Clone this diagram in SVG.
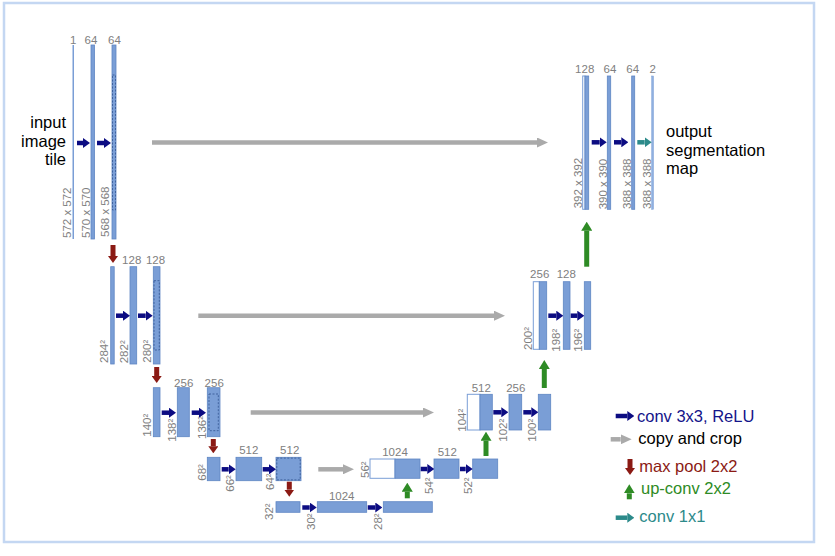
<svg xmlns="http://www.w3.org/2000/svg" width="835" height="556" viewBox="0 0 835 556">
<style>
.bar{fill:#7a9ed6;stroke:#5f86c4;stroke-width:0.8}
.wbar{fill:#fff;stroke:#7a9ed6;stroke-width:1}
.crop{fill:none;stroke:#3a5c98;stroke-width:0.9;stroke-dasharray:2 1.5}
.num{font-family:"Liberation Sans",Arial,sans-serif;font-size:11.5px;fill:#808080}
.c{text-anchor:middle}
.big{font-family:"Liberation Sans",Arial,sans-serif;font-size:16.5px;fill:#000}
.conv{stroke:#0c0c82;stroke-width:4.5;marker-end:url(#hNavy)}
.c11{stroke:#2c8a8a;stroke-width:4.5;marker-end:url(#hTeal)}
.copy{stroke:#aaaaaa;stroke-width:4.5;marker-end:url(#hGray)}
.pool{stroke:#8b1a14;stroke-width:5;marker-end:url(#hRed)}
.up{stroke:#2e8b25;stroke-width:5;marker-end:url(#hGreen)}
</style>
<defs>
<marker id="hNavy" markerUnits="userSpaceOnUse" markerWidth="7" markerHeight="10" viewBox="0 0 7 10" refX="0" refY="5" orient="auto"><path d="M0,0 L7,5 L0,10 Z" fill="#0c0c82"/></marker>
<marker id="hTeal" markerUnits="userSpaceOnUse" markerWidth="7" markerHeight="10" viewBox="0 0 7 10" refX="0" refY="5" orient="auto"><path d="M0,0 L7,5 L0,10 Z" fill="#2c8a8a"/></marker>
<marker id="hGray" markerUnits="userSpaceOnUse" markerWidth="11" markerHeight="10" viewBox="0 0 11 10" refX="0" refY="5" orient="auto"><path d="M0,0 L11,5 L0,10 Z" fill="#aaaaaa"/></marker>
<marker id="hRed" markerUnits="userSpaceOnUse" markerWidth="7" markerHeight="10" viewBox="0 0 7 10" refX="0" refY="5" orient="auto"><path d="M0,0 L7,5 L0,10 Z" fill="#8b1a14"/></marker>
<marker id="hGreen" markerUnits="userSpaceOnUse" markerWidth="9" markerHeight="11" viewBox="0 0 9 11" refX="0" refY="5.5" orient="auto"><path d="M0,0 L9,5.5 L0,11 Z" fill="#2e8b25"/></marker>
</defs>
<rect x="0" y="0" width="835" height="556" fill="#fff"/>
<rect x="4" y="3" width="810" height="539" fill="#fff" stroke="#c4d7f2" stroke-width="2.5"/>

<!-- Encoder level 1 -->
<g id="e1a"><rect x="72.5" y="45" width="1.5" height="194" fill="#7a9ed6"/><text class="num c" x="73.3" y="44">1</text><text class="num" transform="translate(70.7,238) rotate(-90)">572 x 572</text></g>
<g id="e1b"><rect class="bar" x="91" y="45" width="3.5" height="194"/><text class="num c" x="91" y="44">64</text><text class="num" transform="translate(90,238) rotate(-90)">570 x 570</text></g>
<g id="e1c"><rect class="bar" x="112" y="45" width="4" height="194"/><rect class="crop" x="112.5" y="75" width="3" height="135"/><text class="num c" x="114.5" y="44">64</text><text class="num" transform="translate(109,237) rotate(-90)">568 x 568</text></g>
<g id="input-label"><text class="big" text-anchor="end" x="66" y="128">input</text><text class="big" text-anchor="end" x="66" y="146.5">image</text><text class="big" text-anchor="end" x="66" y="165">tile</text></g>

<!-- Encoder level 2 -->
<g id="e2a"><rect class="bar" x="110.7" y="266.7" width="3.5" height="97.3"/><text class="num" transform="translate(108.3,363) rotate(-90)">284²</text></g>
<g id="e2b"><rect class="bar" x="130" y="266.7" width="6.7" height="97.3"/><text class="num c" x="131.7" y="264">128</text><text class="num" transform="translate(128.3,363.3) rotate(-90)">282²</text></g>
<g id="e2c"><rect class="bar" x="153.3" y="266.7" width="6.7" height="97.3"/><rect class="crop" x="154" y="280.7" width="5.3" height="69.3"/><text class="num c" x="155.5" y="264">128</text><text class="num" transform="translate(151,362.7) rotate(-90)">280²</text></g>

<!-- Encoder level 3 -->
<g id="e3a"><rect class="bar" x="153.3" y="387.7" width="6.7" height="49"/><text class="num" transform="translate(151,436.7) rotate(-90)">140²</text></g>
<g id="e3b"><rect class="bar" x="177.3" y="387.7" width="12" height="49"/><text class="num c" x="183.7" y="386.5">256</text><text class="num" transform="translate(175.7,441.7) rotate(-90)">138²</text></g>
<g id="e3c"><rect class="bar" x="207.3" y="387.7" width="12.7" height="49"/><rect class="crop" x="209" y="394" width="9.3" height="36.7"/><text class="num c" x="214.2" y="386.5">256</text><text class="num" transform="translate(206,439) rotate(-90)">136²</text></g>

<!-- Encoder level 4 -->
<g id="e4a"><rect class="bar" x="207.3" y="457.3" width="12.7" height="23.4"/><text class="num" transform="translate(205.7,480.7) rotate(-90)">68²</text></g>
<g id="e4b"><rect class="bar" x="236" y="457.3" width="25.7" height="23.4"/><text class="num c" x="248.8" y="454">512</text><text class="num" transform="translate(234.3,491.7) rotate(-90)">66²</text></g>
<g id="e4c"><rect class="bar" x="276" y="457.3" width="25" height="23.4"/><rect class="crop" x="276.8" y="458.1" width="23.4" height="21.8"/><text class="num c" x="289.7" y="454">512</text><text class="num" transform="translate(274.3,490) rotate(-90)">64²</text></g>

<!-- Bottleneck level 5 -->
<g id="b5a"><rect class="bar" x="276" y="501.7" width="24" height="10.6"/><text class="num" transform="translate(273.3,520) rotate(-90)">32²</text></g>
<g id="b5b"><rect class="bar" x="317.3" y="501.7" width="49.4" height="10.6"/><text class="num c" x="341.7" y="499.5">1024</text><text class="num" transform="translate(315,530) rotate(-90)">30²</text></g>
<g id="b5c"><rect class="bar" x="383.3" y="501.7" width="49" height="10.6"/><text class="num" transform="translate(381.7,530) rotate(-90)">28²</text></g>

<!-- Decoder level 4 -->
<g id="d4a"><rect class="wbar" x="370" y="459" width="25" height="19.3"/><rect class="bar" x="395" y="459" width="25" height="19.3"/><text class="num c" x="395" y="456">1024</text><text class="num" transform="translate(369,478) rotate(-90)">56²</text></g>
<g id="d4b"><rect class="bar" x="434" y="459" width="25" height="19.3"/><text class="num c" x="447.3" y="456">512</text><text class="num" transform="translate(433.3,494) rotate(-90)">54²</text></g>
<g id="d4c"><rect class="bar" x="472.7" y="459" width="25" height="19.3"/><text class="num" transform="translate(471.7,494) rotate(-90)">52²</text></g>

<!-- Decoder level 3 -->
<g id="d3a"><rect class="wbar" x="467.3" y="394.3" width="12.7" height="35.7"/><rect class="bar" x="480" y="394.3" width="12.3" height="35.7"/><text class="num c" x="481.3" y="391.7">512</text><text class="num" transform="translate(466,431.7) rotate(-90)">104²</text></g>
<g id="d3b"><rect class="bar" x="509" y="394.3" width="12.7" height="35.7"/><text class="num c" x="515.8" y="391.7">256</text><text class="num" transform="translate(506.7,441.7) rotate(-90)">102²</text></g>
<g id="d3c"><rect class="bar" x="538.3" y="394.3" width="12.4" height="35.7"/><text class="num" transform="translate(536,441.7) rotate(-90)">100²</text></g>

<!-- Decoder level 2 -->
<g id="d2a"><rect class="wbar" x="533.3" y="281.7" width="6" height="67.6"/><rect class="bar" x="539.3" y="281.7" width="7.4" height="67.6"/><text class="num c" x="539.7" y="278.3">256</text><text class="num" transform="translate(531.7,350) rotate(-90)">200²</text></g>
<g id="d2b"><rect class="bar" x="563.3" y="281.7" width="6.7" height="67.6"/><text class="num c" x="566.3" y="278.3">128</text><text class="num" transform="translate(560,351.7) rotate(-90)">198²</text></g>
<g id="d2c"><rect class="bar" x="584.3" y="281.7" width="6.4" height="67.6"/><text class="num" transform="translate(582.3,351.7) rotate(-90)">196²</text></g>

<!-- Decoder level 1 -->
<g id="d1a"><rect class="wbar" x="582.7" y="76" width="2.3" height="133.3"/><rect class="bar" x="585" y="76" width="3.7" height="133.3"/><text class="num c" x="584.7" y="73.3">128</text><text class="num" transform="translate(581.7,208.3) rotate(-90)">392 x 392</text></g>
<g id="d1b"><rect class="bar" x="607.3" y="76" width="3.4" height="133.3"/><text class="num c" x="610" y="73.3">64</text><text class="num" transform="translate(606.7,209.3) rotate(-90)">390 x 390</text></g>
<g id="d1c"><rect class="bar" x="631.7" y="76" width="3" height="133.3"/><text class="num c" x="632.7" y="73.3">64</text><text class="num" transform="translate(630.7,209) rotate(-90)">388 x 388</text></g>
<g id="d1d"><rect x="651.7" y="76" width="1.8" height="133.3" fill="#8fb0e0" stroke="#7a9ed6" stroke-width="0.5"/><text class="num c" x="652.8" y="73.3">2</text><text class="num" transform="translate(651.2,209) rotate(-90)">388 x 388</text></g>
<g id="output-label"><text class="big" x="666" y="137">output</text><text class="big" x="666" y="155.5">segmentation</text><text class="big" x="666" y="174">map</text></g>

<!-- Connectors -->
<g id="connectors">
<line class="conv" x1="77" y1="143" x2="83" y2="143"/>
<line class="conv" x1="97" y1="143" x2="104" y2="143"/>
<line class="conv" x1="116" y1="315.7" x2="123" y2="315.7"/>
<line class="conv" x1="138" y1="315.7" x2="145.7" y2="315.7"/>
<line class="conv" x1="161.7" y1="412.7" x2="169" y2="412.7"/>
<line class="conv" x1="191.7" y1="412.7" x2="199" y2="412.7"/>
<line class="conv" x1="221.7" y1="469.3" x2="228.7" y2="469.3"/>
<line class="conv" x1="262.7" y1="469.3" x2="269" y2="469.3"/>
<line class="conv" x1="302.3" y1="507.5" x2="309.7" y2="507.5"/>
<line class="conv" x1="367.7" y1="507.5" x2="375.3" y2="507.5"/>
<line class="conv" x1="420.7" y1="469" x2="427.3" y2="469"/>
<line class="conv" x1="460" y1="469" x2="465.7" y2="469"/>
<line class="conv" x1="493.3" y1="412.3" x2="501.3" y2="412.3"/>
<line class="conv" x1="523.3" y1="412.3" x2="531.3" y2="412.3"/>
<line class="conv" x1="548.3" y1="315.7" x2="556.3" y2="315.7"/>
<line class="conv" x1="570.7" y1="315.7" x2="577.3" y2="315.7"/>
<line class="conv" x1="591.7" y1="142.3" x2="599.7" y2="142.3"/>
<line class="conv" x1="614" y1="142.3" x2="621.3" y2="142.3"/>
<line class="c11" x1="637.3" y1="142.3" x2="644.7" y2="142.3"/>
<line class="copy" x1="152" y1="142.5" x2="537" y2="142.5"/>
<line class="copy" x1="198.3" y1="315.7" x2="494" y2="315.7"/>
<line class="copy" x1="250.7" y1="412.5" x2="423" y2="412.5"/>
<line class="copy" x1="318.3" y1="469.3" x2="343" y2="469.3"/>
<line class="pool" x1="113" y1="245" x2="113" y2="256"/>
<line class="pool" x1="156.7" y1="367" x2="156.7" y2="376"/>
<line class="pool" x1="213.3" y1="439" x2="213.3" y2="446.3"/>
<line class="pool" x1="289.3" y1="481.7" x2="289.3" y2="489.7"/>
<line class="up" x1="407.3" y1="498.3" x2="407.3" y2="491.7"/>
<line class="up" x1="486" y1="456" x2="486" y2="440.7"/>
<line class="up" x1="544.3" y1="388" x2="544.3" y2="369"/>
<line class="up" x1="586.7" y1="266.7" x2="586.7" y2="230.7"/>
</g>

<!-- Legend -->
<g id="legend">
<line class="conv" x1="615.7" y1="416" x2="627.3" y2="416"/>
<text class="big" x="637" y="421.7" fill="#14148a" style="fill:#14148a">conv 3x3, ReLU</text>
<line class="copy" x1="610.7" y1="439.3" x2="620.7" y2="439.3"/>
<text class="big" x="638.3" y="443.5">copy and crop</text>
<line class="pool" x1="630" y1="459" x2="630" y2="468"/>
<text class="big" x="639.3" y="471.7" style="fill:#8b1a14">max pool 2x2</text>
<line class="up" x1="629.3" y1="499.3" x2="629.3" y2="493.3"/>
<text class="big" x="641" y="494" style="fill:#2e8b25">up-conv 2x2</text>
<line class="c11" x1="615.7" y1="517.7" x2="627.3" y2="517.7"/>
<text class="big" x="639.3" y="521.7" style="fill:#2c8a8a">conv 1x1</text>
</g>
</svg>
